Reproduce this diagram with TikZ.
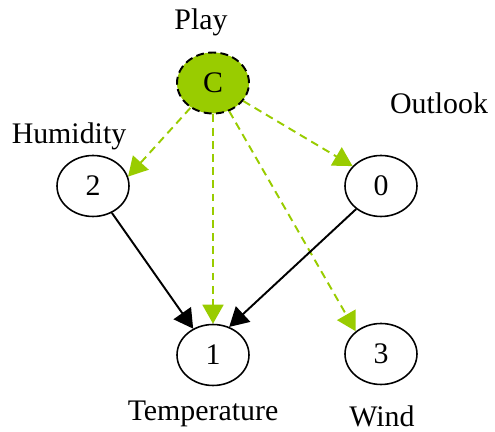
\documentclass[tikz,border=0pt]{standalone}
\usepackage{fontspec}
\setmainfont{Liberation Serif}
\usetikzlibrary{arrows.meta,shapes.geometric}
\definecolor{playgreen}{HTML}{99CC00}

\begin{document}
\begin{tikzpicture}[x=0.02cm,y=-0.02cm]
\tikzset{
  varnode/.style={ellipse,draw,line width=0.9pt,minimum width=1.44cm,minimum height=1.22cm,inner sep=0pt,font=\fontsize{17}{20}\selectfont},
  classnode/.style={varnode,fill=playgreen,line width=1.1pt,dash pattern=on 4.5pt off 2.5pt},
  varlabel/.style={font=\fontsize{17}{20}\selectfont,inner sep=0pt},
  classedge/.style={-{Triangle[length=0.38cm,width=0.42cm]},playgreen,line width=1.1pt,dash pattern=on 4.5pt off 3pt},
  depedge/.style={-{Triangle[length=0.38cm,width=0.42cm]},black,line width=1.1pt}
}
\useasboundingbox (0,0) rectangle (495,432);
\node[classnode] (n_C) at (213,83) {C};
\node[varnode] (n_2) at (93,186) {2};
\node[varnode] (n_0) at (381,186) {0};
\node[varnode] (n_1) at (213,355) {1};
\node[varnode] (n_3) at (381,354) {3};
\node[varlabel] (l_play) at (201,22) {Play};
\node[varlabel] (l_humidity) at (69,136) {Humidity};
\node[varlabel] (l_outlook) at (439,103) {Outlook};
\node[varlabel] (l_temperature) at (203,414) {Temperature};
\node[varlabel] (l_wind) at (382,416) {Wind};
\draw[classedge] (n_C) -- (n_2.15);
\draw[classedge] (n_C) -- (n_1);
\draw[classedge] (n_C) -- (n_0.145);
\draw[classedge] (n_C) -- (n_3.138);
\draw[depedge] (n_2) -- (n_1.127);
\draw[depedge] (n_0) -- (n_1.60);
\end{tikzpicture}
\end{document}
